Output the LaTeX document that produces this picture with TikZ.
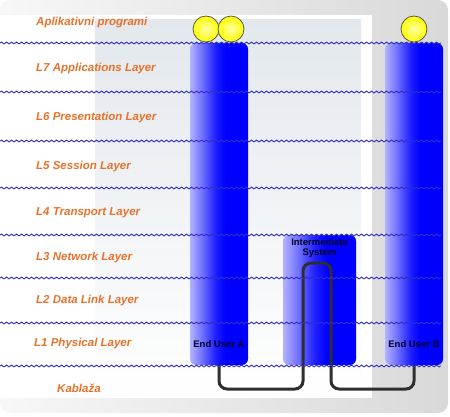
\documentclass[tikz,border=0pt]{standalone}
\usepackage{fontspec}
\setmainfont{Liberation Sans}
\usetikzlibrary{decorations.pathmorphing}
\definecolor{lblorange}{HTML}{E8722A}
\definecolor{wave}{HTML}{2E2EC8}
\definecolor{photo}{HTML}{E3E8ED}
\definecolor{cabl}{HTML}{2E2E2E}
\pgfdeclarehorizontalshading{colshade}{100bp}{color(0bp)=(blue!30!white); color(25bp)=(blue!30!white); color(35bp)=(blue!55!white); color(47bp)=(blue!88!white); color(55bp)=(blue); color(100bp)=(blue)}
\tikzset{
  layerline/.style={wave,line width=0.9pt,decorate,decoration={snake,segment length=5pt,amplitude=0.9pt}},
  lbl/.style={anchor=west,inner sep=0pt,text=lblorange,font=\fontsize{11.5}{13}\selectfont\bfseries\itshape},
  col/.style={rectangle,rounded corners=6pt,inner sep=0pt,shading=colshade},
  usr/.style={inner sep=0pt,text=black!85!blue,font=\fontsize{9.5}{11}\selectfont\bfseries,align=center},
  cable/.style={cabl,line width=3pt,rounded corners=8pt},
  ball/.style={circle,minimum size=26pt,inner sep=0pt,draw=black!70,line width=0.7pt,inner color=yellow!35!white,outer color=yellow}
}
\begin{document}
\begin{tikzpicture}[x=1pt,y=-1pt]
\useasboundingbox (0,0) rectangle (450,417);
% background
\shade[left color=gray!6,right color=gray!30,rounded corners=10pt] (0,0) rectangle (448,413);
\fill[white] (0,15) rectangle (372,398);
\shade[top color=photo,bottom color=white] (95,20) rectangle (361,395);
% columns
\node[col,minimum width=58pt,minimum height=322pt] (colA) at (219,204) {};
\node[col,minimum width=58pt,minimum height=322pt] (colB) at (414,204) {};
\node[col,minimum width=73pt,minimum height=130pt] (colI) at (319.5,300) {};
% column labels
\node[usr] (ua) at (219,344) {End User A};
\node[usr] (ub) at (414,344) {End User B};
\node[usr] (is) at (319.5,248) {Intermediate\\[-1pt]System};
% cable
\draw[cable] (colA.south) |- (303,389) -- (303,263) -- (331,263) -- (331,389) -| (colB.south);
% layer lines
\foreach \y in {43,92,141,188,235,278,323,366}{
  \draw[layerline] (0,\y) -- (441,\y);
}
% balls
\node[ball] (b1) at (206,29) {};
\node[ball] (b2) at (231,29) {};
\node[ball] (b3) at (414,29) {};
% labels
\node[lbl] (l8) at (36,23) {Aplikativni programi};
\node[lbl] (l7) at (36,69) {L7 Applications Layer};
\node[lbl] (l6) at (36,118) {L6 Presentation Layer};
\node[lbl] (l5) at (36,167) {L5 Session Layer};
\node[lbl] (l4) at (36,213) {L4 Transport Layer};
\node[lbl] (l3) at (36,258) {L3 Network Layer};
\node[lbl] (l2) at (36,301) {L2 Data Link Layer};
\node[lbl] (l1) at (34,344) {L1 Physical Layer};
\node[lbl] (l0) at (57,388) {Kablaža};
\end{tikzpicture}
\end{document}
